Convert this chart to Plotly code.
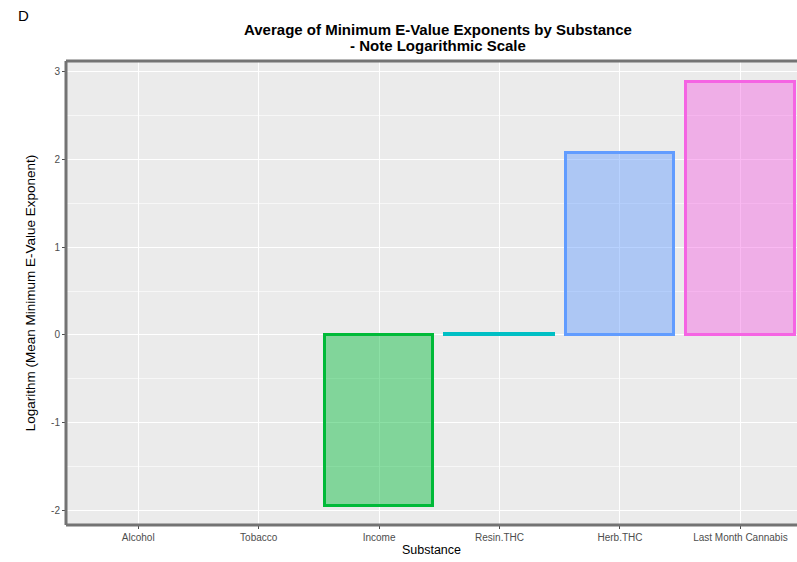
import plotly.graph_objects as go

# Mean minimum E-value exponent (log scale) per substance
substances = ["Alcohol", "Tobacco", "Income", "Resin.THC", "Herb.THC", "Last Month Cannabis"]
log_mean_exponent = [None, None, -1.95, 0.01, 2.07, 2.89]
line_colors = ["#F8766D", "#B79F00", "#00BA38", "#00BFC4", "#619CFF", "#F564E3"]
fill_colors = ["rgba(248,118,109,0.45)", "rgba(183,159,0,0.45)", "rgba(0,186,56,0.45)",
               "rgba(0,191,196,0.45)", "rgba(97,156,255,0.45)", "rgba(245,100,227,0.45)"]
y_tick_values = [-2, -1, 0, 1, 2, 3]
y_tick_labels = ["-2", "-1", "0", "1", "2", "3"]
title_lines = ["Average of Minimum E-Value Exponents by Substance", "- Note Logarithmic Scale"]

W, H = 797, 562
L, R, T, B = 66, 0, 61, 37
FONT = "Liberation Sans, Arial, sans-serif"
plot_w = W - L - R
plot_h = H - T - B


def px_x(px):
    return (px - L) / plot_w


def px_y(py):
    return 1 - (py - T) / plot_h


fig = go.Figure()
fig.add_trace(go.Bar(
    x=substances, y=log_mean_exponent, width=0.9,
    marker=dict(color=fill_colors, line=dict(color=line_colors, width=3)),
    showlegend=False,
))

annotations = [dict(
    text="D", x=px_x(16), y=px_y(16), xref="paper", yref="paper",
    xanchor="left", yanchor="middle", showarrow=False,
    font=dict(size=15, color="black", family=FONT),
)]
for line, ypx in zip(title_lines, [30, 46]):
    annotations.append(dict(
        text=f"<b>{line}</b>", x=px_x(438), y=px_y(ypx), xref="paper", yref="paper",
        xanchor="center", yanchor="middle", showarrow=False,
        font=dict(size=15, color="black", family=FONT),
    ))

fig.update_layout(
    width=W, height=H,
    margin=dict(l=L, r=R, t=T, b=B),
    paper_bgcolor="white", plot_bgcolor="#EBEBEB",
    font=dict(family=FONT, color="#4D4D4D", size=10),
    bargap=0,
    xaxis=dict(
        range=[-0.6, 5.47], showgrid=True, gridcolor="white", gridwidth=1.2,
        ticks="outside", ticklen=3, tickcolor="#4D4D4D", tickwidth=1,
        zeroline=False, showline=False,
        title=dict(text="Substance", font=dict(size=12.5, color="black"), standoff=3),
        tickfont=dict(size=10, color="#4D4D4D"),
    ),
    yaxis=dict(
        range=[-2.17, 3.125], tickvals=y_tick_values, ticktext=y_tick_labels,
        showgrid=True, gridcolor="white", gridwidth=1.2,
        minor=dict(dtick=0.5, tick0=0, showgrid=True, gridcolor="#F7F7F7", gridwidth=0.6),
        ticks="outside", ticklen=3, tickcolor="#4D4D4D", tickwidth=1,
        zeroline=False, showline=False,
        title=dict(text="Logarithm (Mean Minimum E-Value Exponent)",
                   font=dict(size=13.5, color="black"), standoff=12),
        tickfont=dict(size=10, color="#4D4D4D"),
    ),
    annotations=annotations,
)

# panel border (left, top, bottom)
border = dict(color="#737373", width=3)
fig.add_shape(type="line", xref="paper", yref="paper", x0=0, x1=0, y0=0, y1=1, line=border)
fig.add_shape(type="line", xref="paper", yref="paper", x0=0, x1=1, y0=1, y1=1, line=border)
fig.add_shape(type="line", xref="paper", yref="paper", x0=0, x1=1, y0=0, y1=0, line=border)

fig.write_html("out.html")
